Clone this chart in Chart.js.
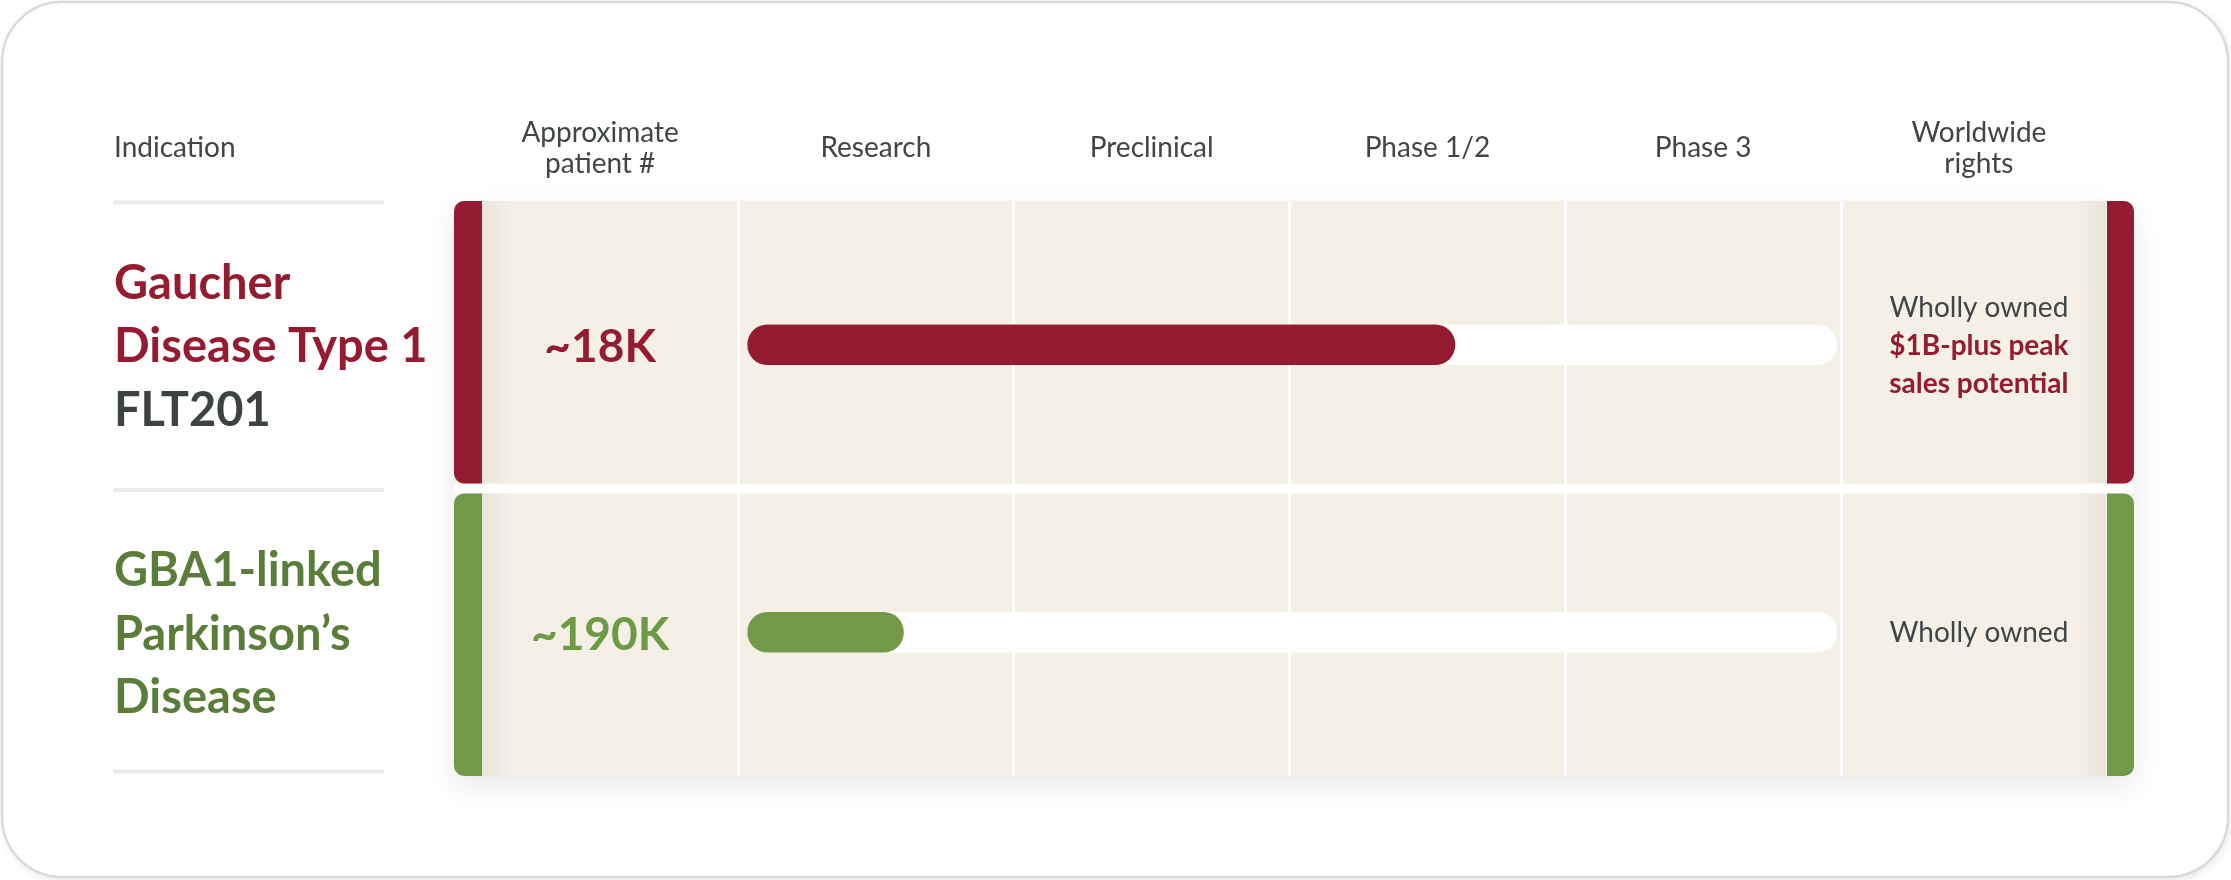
<!DOCTYPE html>
<html>
<head>
<meta charset="utf-8">
<title>Pipeline</title>
<script src="https://cdn.jsdelivr.net/npm/chart.js@4.4.1/dist/chart.umd.min.js"></script>
<style>
	html, body { margin: 0; padding: 0; background: #ffffff; }
	#chart-div { position: relative; width: 2231px; height: 880px; }
</style>
</head>
<body>
<div id="chart-div"><canvas id="pipeline-chart"></canvas></div>
<script>
// one entry per row of the table
const indications = [["Gaucher", "Disease Type 1"], ["GBA1-linked", "Parkinson’s", "Disease"]]
const programs = ["FLT201", ""]
const patients = ["~18K", "~190K"]
const rights = ["Wholly owned", "Wholly owned"]
const rightsNotes = [["$1B-plus peak", "sales potential"], []]
// where each bar ends, in stages (0 = start of Research, 4 = end of Phase 3)
const progress = [2.6, 0.6]

// column headers
const stages = ["Research", "Preclinical", "Phase 1/2", "Phase 3"]
const headerIndication = ["Indication"]
const headerPatients = ["Approximate", "patient #"]
const headerRights = ["Worldwide", "rights"]

const rowColors = ["#951b30", "#729948"]
const labelColors = ["#951b30", "#5a7d39"]
const patientColors = ["#951b30", "#6f9a45"]
const textGray = "#404545"
const panelColor = "#f4f0e6"
const font = "Lato, 'Open Sans', sans-serif"

// bars start a little inside the Research column
const barStart = 0.035
const trackEnd = 3.985

function drawLines(ctx, lines, x, yMid, spacing, capHeight){
	// lines: [{text, color, weight, size}]
	lines.forEach((l, i) => {
		const yc = yMid + (i - (lines.length - 1) / 2) * spacing
		ctx.font = l.weight + " " + l.size + "px " + font
		ctx.fillStyle = l.color
		ctx.fillText(l.text, x, yc + capHeight / 2)
	})
}

const pipelinePlugin = {
	id: "pipeline",
	beforeDraw(chart){
		const ctx = chart.ctx
		const xs = chart.scales.x
		const ys = chart.scales.y
		const area = chart.chartArea
		const w = chart.width
		const h = chart.height

		// card
		ctx.save()
		ctx.shadowColor = "rgba(0,0,0,0.10)"
		ctx.shadowBlur = 10
		ctx.shadowOffsetX = 2
		ctx.shadowOffsetY = 3
		ctx.beginPath()
		ctx.roundRect(2, 2, w - 5, h - 5, 60)
		ctx.fillStyle = "#ffffff"
		ctx.fill()
		ctx.restore()
		ctx.save()
		ctx.beginPath()
		ctx.roundRect(2, 2, w - 5, h - 5, 60)
		ctx.strokeStyle = "#dadad6"
		ctx.lineWidth = 2.5
		ctx.stroke()
		ctx.restore()

		const x0 = xs.getPixelForValue(0)
		const x4 = xs.getPixelForValue(stages.length)
		const panelLeft = x0 - 284
		const panelRight = x4 + 293
		const stripW = 28
		const half = (area.bottom - area.top) / (2 * indications.length)

		const rows = indications.map((ind, i) => {
			const yc = ys.getPixelForValue(i)
			return {
				top: yc - half + (i == 0 ? 0 : 5),
				bottom: yc + half - (i == indications.length - 1 ? 0 : 5)
			}
		})

		// one soft shadow behind the whole block, then clear the gaps
		ctx.save()
		ctx.shadowColor = "rgba(0,0,0,0.09)"
		ctx.shadowBlur = 30
		ctx.shadowOffsetY = 10
		ctx.beginPath()
		ctx.roundRect(panelLeft, rows[0].top, panelRight - panelLeft, rows[rows.length - 1].bottom - rows[0].top, 10)
		ctx.fillStyle = panelColor
		ctx.fill()
		ctx.restore()
		ctx.fillStyle = "#ffffff"
		for(let i = 1; i < rows.length; i++){
			ctx.fillRect(panelLeft, rows[i - 1].bottom, panelRight - panelLeft, rows[i].top - rows[i - 1].bottom)
		}

		rows.forEach((r, i) => {
			const top = r.top
			const bottom = r.bottom
			ctx.beginPath()
			ctx.roundRect(panelLeft, top, panelRight - panelLeft, bottom - top, 10)
			ctx.fillStyle = panelColor
			ctx.fill()

			// inner shade next to the strips
			ctx.save()
			let g = ctx.createLinearGradient(panelLeft + stripW, 0, panelLeft + stripW + 30, 0)
			g.addColorStop(0, "rgba(120,100,70,0.08)")
			g.addColorStop(1, "rgba(120,100,70,0)")
			ctx.fillStyle = g
			ctx.fillRect(panelLeft + stripW, top, 30, bottom - top)
			g = ctx.createLinearGradient(panelRight - stripW, 0, panelRight - stripW - 30, 0)
			g.addColorStop(0, "rgba(120,100,70,0.08)")
			g.addColorStop(1, "rgba(120,100,70,0)")
			ctx.fillStyle = g
			ctx.fillRect(panelRight - stripW - 30, top, 30, bottom - top)
			ctx.restore()

			// coloured strips
			ctx.fillStyle = rowColors[i]
			ctx.beginPath()
			ctx.roundRect(panelLeft, top, stripW, bottom - top, [10, 0, 0, 10])
			ctx.fill()
			ctx.beginPath()
			ctx.roundRect(panelRight - stripW + 1, top, stripW - 1, bottom - top, [0, 10, 10, 0])
			ctx.fill()
		})

		// grey separators under "Indication"
		const seps = [area.top + 1.5]
		for(let i = 1; i < indications.length; i++){
			seps.push((ys.getPixelForValue(i - 1) + ys.getPixelForValue(i)) / 2 + 1.5)
		}
		seps.push(area.bottom - 4.5)
		ctx.fillStyle = "#ebebeb"
		seps.forEach(s => {
			ctx.fillRect(113, s - 2, 271, 4)
		})
	},
	afterDraw(chart){
		const ctx = chart.ctx
		const xs = chart.scales.x
		const ys = chart.scales.y
		const colW = xs.getPixelForValue(1) - xs.getPixelForValue(0)
		const patientX = xs.getPixelForValue(0) - colW / 2
		const rightsX = xs.getPixelForValue(stages.length) + colW / 2
		const headerY = 147
		const headLine = (t) => ({text: t, color: textGray, weight: "normal", size: 28})

		ctx.save()
		// headers
		ctx.textAlign = "left"
		drawLines(ctx, headerIndication.map(headLine), 114, headerY, 31, 20)
		ctx.textAlign = "center"
		drawLines(ctx, headerPatients.map(headLine), patientX, headerY, 31, 20)
		stages.forEach((s, i) => {
			drawLines(ctx, [headLine(s)], xs.getPixelForValue(i + 0.5), headerY, 31, 20)
		})
		drawLines(ctx, headerRights.map(headLine), rightsX, headerY, 31, 20)

		indications.forEach((ind, i) => {
			const yc = ys.getPixelForValue(i)
			// indication label
			const lines = ind.map(t => ({text: t, color: labelColors[i], weight: "bold", size: 47}))
			if(programs[i] != ""){
				lines.push({text: programs[i], color: "#3d4242", weight: "bold", size: 47})
			}
			ctx.textAlign = "left"
			drawLines(ctx, lines, 114, yc + 1, 63.5, 33)

			// patients
			ctx.textAlign = "center"
			drawLines(ctx, [{text: patients[i], color: patientColors[i], weight: "bold", size: 46}], patientX, yc + 1, 0, 33)

			// rights
			const rl = [{text: rights[i], color: textGray, weight: "normal", size: 28}]
			rightsNotes[i].forEach(n => {
				rl.push({text: n, color: rowColors[0], weight: "bold", size: 28})
			})
			drawLines(ctx, rl, rightsX, yc, 38, 20)
		})
		ctx.restore()
	}
}

const pipelineChart = new Chart("pipeline-chart", {
	type: "bar",
	data: {
		labels: indications.map(l => l.join(" ")),
		datasets: [{
			label: "Progress",
			data: progress.map(p => [barStart, p]),
			backgroundColor: rowColors,
			order: 1
		}, {
			label: "Track",
			data: progress.map(() => [barStart, trackEnd]),
			backgroundColor: "#ffffff",
			order: 2
		}]
	},
	options: {
		indexAxis: "y",
		responsive: true,
		maintainAspectRatio: false,
		animation: false,
		layout: {
			padding: {left: 738, right: 390, top: 201, bottom: 104}
		},
		datasets: {
			bar: {
				grouped: false,
				barThickness: 40,
				borderRadius: 20,
				borderSkipped: false
			}
		},
		plugins: {
			legend: {display: false},
			tooltip: {enabled: false}
		},
		scales: {
			x: {
				type: "linear",
				min: 0,
				max: stages.length,
				ticks: {display: false, stepSize: 1},
				grid: {color: "#ffffff", lineWidth: 3, drawTicks: false},
				border: {display: false}
			},
			y: {
				display: false
			}
		}
	},
	plugins: [pipelinePlugin]
})
</script>
</body>
</html>
